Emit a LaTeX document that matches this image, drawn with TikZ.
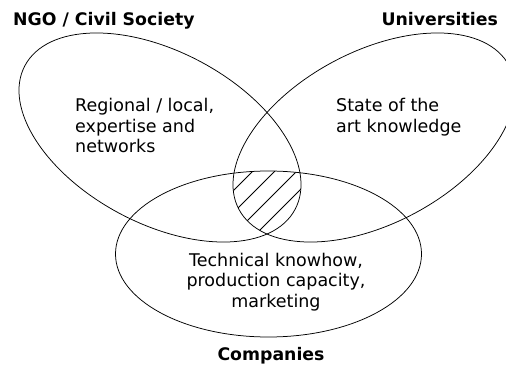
\documentclass[tikz,border=0pt]{standalone}
\usepackage{fontspec}
\setmainfont{DejaVu Sans}
\usepackage{tikz}
\usetikzlibrary{positioning}

% the three sets
\newcommand{\ngoset}{(160,227.5) ellipse [x radius=153, y radius=86, rotate=-28]}
\newcommand{\uniset}{(374,227.5) ellipse [x radius=153, y radius=86, rotate=28]}
\newcommand{\compset}{(268.5,111) ellipse [x radius=153, y radius=83]}

\begin{document}
\begin{tikzpicture}[x=1pt, y=1pt]
    \tikzstyle{set} = [draw=black, line width=0.75pt]
    \tikzstyle{hatch} = [draw=black, line width=0.75pt]
    \tikzstyle{title} = [inner sep=0pt, font=\fontsize{17.3}{20}\selectfont\bfseries]
    \tikzstyle{desc} = [inner sep=0pt, font=\fontsize{17.5}{20.5}\selectfont]

    % Frame
    \useasboundingbox (0,0) rectangle (506,365);
    \clip (0,0) rectangle (506,365);

    % Hatched overlap of all three sets
    \begin{scope}
        \clip \ngoset;
        \clip \uniset;
        \clip \compset;
        \foreach \k in {-6,...,1}
            \draw [hatch] (200,{141+22*\k}) -- (340,{281+22*\k});
    \end{scope}

    % Sets
    \draw [set] \ngoset;
    \draw [set] \uniset;
    \draw [set] \compset;

    % Set titles
    \node [title, anchor=base west] (ngo) at (13,339) {NGO / Civil Society};
    \node [title, anchor=base east] (uni) at (498,339) {Universities};
    \node [title, anchor=base] (comp) at (271,5) {Companies};

    % Contributions
    \node [desc, align=left, anchor=north west] (ngotext) at (75,266.5) {Regional / local,\\expertise and\\networks};
    \node [desc, align=left, anchor=north west] (unitext) at (336,266.5) {State of the\\art knowledge};
    \node [desc, align=center, anchor=north] (comptext) at (276,112) {Technical knowhow,\\production capacity,\\marketing};
\end{tikzpicture}
\end{document}
